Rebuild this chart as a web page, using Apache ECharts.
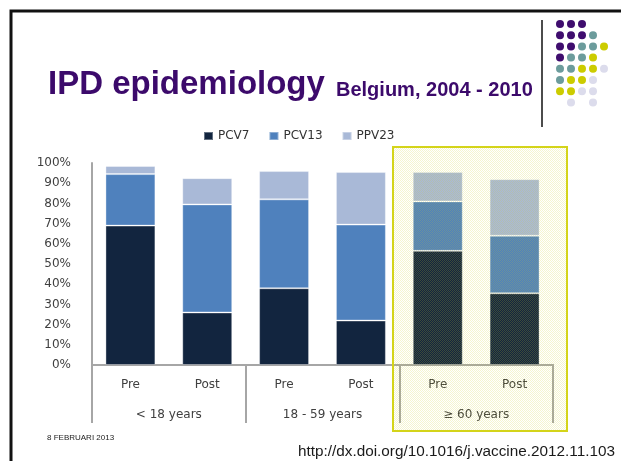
<!DOCTYPE html>
<html><head><meta charset="utf-8">
<script src="https://cdn.jsdelivr.net/npm/echarts@6/dist/echarts.min.js"></script>
<style>html,body{margin:0;padding:0;background:#fff}#c{width:621px;height:461px}</style>
</head><body><div id="c"></div><script>
const categories = ['Pre', 'Post', 'Pre', 'Post', 'Pre', 'Post'];
const groups = ['< 18 years', '18 - 59 years', '≥ 60 years'];
const seriesNames = ['PCV7', 'PCV13', 'PPV23'];
const pcv7 = [69, 26, 38, 22, 56.5, 35.5];
const pcv13 = [25.5, 53.5, 44, 47.5, 24.5, 28.5];
const ppv23 = [4, 13, 14, 26, 14.5, 28];
const yMin = 0, yMax = 100, yStep = 10;
const titleMain = 'IPD epidemiology';
const titleSub = 'Belgium, 2004 - 2010';
const footerDate = '8 FEBRUARI 2013';
const footerUrl = 'http://dx.doi.org/10.1016/j.vaccine.2012.11.103';
const dotRows = ['PPP', 'PPPT', 'PPTTY', 'PTTY', 'TTYYL', 'TYYL', 'YYLL', ' L L'];

const dotColors = { P: '#3f0d6e', T: '#6c9c9c', Y: '#cccc00', L: '#dcdcec' };
const colors = ['#12253f', '#4f81bd', '#a9b9d7'];
const labelFont = 'DejaVu Sans';
const axisGray = '#a6a6a6';

// yellow dotted pattern for highlight
const pc = document.createElement('canvas');
pc.width = 2; pc.height = 2;
const pctx = pc.getContext('2d');
pctx.fillStyle = 'rgba(210,210,40,0.22)';
pctx.fillRect(0, 0, 1, 1);
pctx.fillRect(1, 1, 1, 1);

const graphics = [
  { type: 'rect', shape: { x: 11, y: 11, width: 700, height: 600 }, style: { fill: 'none', stroke: '#111', lineWidth: 3 }, silent: true },
  { type: 'text', x: 48, y: 85, style: { text: titleMain, font: 'bold 33px "Liberation Sans", Arial', fill: '#3c0a6b', verticalAlign: 'middle' } },
  { type: 'text', x: 336, y: 90, style: { text: titleSub, font: 'bold 20px "Liberation Sans", Arial', fill: '#3c0a6b', verticalAlign: 'middle' } },
  { type: 'line', shape: { x1: 542, y1: 20, x2: 542, y2: 127 }, style: { stroke: '#111', lineWidth: 1.5 } },
  { type: 'text', x: 47, y: 438, style: { text: footerDate, font: '8px "Liberation Sans", Arial', fill: '#222', verticalAlign: 'middle' } },
  { type: 'text', x: 298, y: 452, style: { text: footerUrl, font: '15.3px "Liberation Sans", Arial', fill: '#1a1a1a', verticalAlign: 'middle' } },
  { type: 'rect', z: 100, silent: true, shape: { x: 393, y: 147, width: 174, height: 284 }, style: { fill: { image: pc, repeat: 'repeat' }, stroke: '#d4d41a', lineWidth: 2 } }
];
dotRows.forEach((row, r) => {
  for (let c = 0; c < row.length; c++) {
    const k = row[c];
    if (k === ' ') continue;
    graphics.push({ type: 'circle', shape: { cx: 560 + c * 11, cy: 24 + r * 11.2, r: 4 }, style: { fill: dotColors[k] } });
  }
});

const chart = echarts.init(document.getElementById('c'), null, { renderer: 'canvas' });
const values = [pcv7, pcv13, ppv23];
chart.setOption({
  animation: false,
  color: colors,
  legend: {
    left: 198, top: 125, icon: 'rect', itemWidth: 9, itemHeight: 8, itemGap: 19,
    textStyle: { fontFamily: labelFont, fontSize: 12, color: '#333' },
    data: seriesNames
  },
  grid: { left: 92, right: 68, top: 163, bottom: 96 },
  xAxis: [
    {
      type: 'category', data: categories, position: 'bottom',
      axisLine: { show: true, lineStyle: { color: axisGray, width: 2 } },
      axisTick: { show: false },
      axisLabel: { margin: 14, fontFamily: labelFont, fontSize: 12, color: '#404040' }
    },
    {
      type: 'category', data: groups, position: 'bottom',
      axisLine: { show: true, lineStyle: { color: axisGray, width: 2 } },
      axisTick: { show: true, length: 58, lineStyle: { color: axisGray, width: 2 } },
      axisLabel: { margin: 44, fontFamily: labelFont, fontSize: 12, color: '#404040' }
    }
  ],
  yAxis: {
    type: 'value', min: yMin, max: yMax, interval: yStep,
    axisLine: { show: true, lineStyle: { color: axisGray, width: 2 } },
    axisTick: { show: false },
    splitLine: { show: false },
    axisLabel: { margin: 21, formatter: '{value}%', fontFamily: labelFont, fontSize: 12, color: '#404040' }
  },
  series: seriesNames.map((n, i) => ({
    name: n, type: 'bar', stack: 'all', xAxisIndex: 0, data: values[i],
    barCategoryGap: '35%',
    itemStyle: { color: colors[i], borderColor: 'rgba(255,255,255,0.35)', borderWidth: 1 }
  })),
  graphic: graphics
});
</script></body></html>
